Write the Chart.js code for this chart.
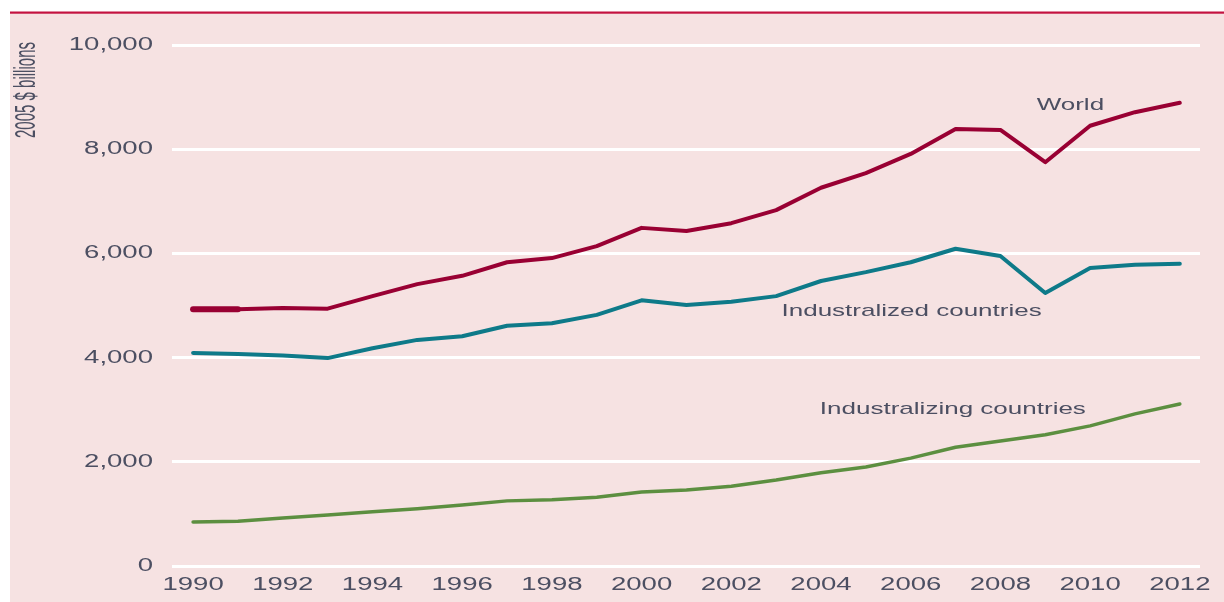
<!DOCTYPE html>
<html>
<head>
<meta charset="utf-8">
<script src="https://cdn.jsdelivr.net/npm/chart.js@4/dist/chart.umd.min.js"></script>
<style>
  html, body { margin: 0; padding: 0; background: #ffffff; }
  #wrap { width: 1224px; height: 602px; }
</style>
</head>
<body>
<div id="wrap"><canvas id="c" width="1224" height="602"></canvas></div>
<script>
// ---- data ----
const years = [1990,1991,1992,1993,1994,1995,1996,1997,1998,1999,2000,2001,2002,2003,2004,2005,2006,2007,2008,2009,2010,2011,2012];
const world = [4930,4930,4950,4940,5180,5410,5570,5830,5910,6140,6490,6430,6580,6830,7260,7540,7910,8390,8370,7750,8450,8710,8890];
const industrialized = [4090,4070,4040,3990,4180,4340,4410,4610,4660,4820,5100,5010,5070,5180,5470,5640,5830,6090,5950,5240,5720,5780,5800];
const industrializing = [845,860,920,980,1040,1100,1170,1250,1270,1320,1420,1460,1530,1650,1790,1900,2070,2280,2400,2520,2690,2920,3110];
const xTicks = [1990,1992,1994,1996,1998,2000,2002,2004,2006,2008,2010,2012];
const yTicks = [0,2000,4000,6000,8000,10000];
const yTitle = '2005 $ billions';
const seriesNames = ['World','Industralized countries','Industralizing countries'];

// ---- style ----
const PINK = '#f6e2e2';
const RED_RULE = '#c41240';
const TEXT = '#4c4f62';
const FONT = '"Liberation Sans", Arial, sans-serif';
const SX = 1.53; // horizontal stretch seen in the reference
const annot = [
  { text: seriesNames[0], x: 2009.56, y: 8850 },
  { text: seriesNames[1], x: 2006.02, y: 4894 },
  { text: seriesNames[2], x: 2006.94, y: 3013 }
];

function pts(arr){ return years.map((yr,i)=>({x:yr, y:arr[i]})); }
function fmt(v){ return v.toLocaleString('en-US'); }

function drawText(ctx, txt, x, y, align, size){
  ctx.save();
  ctx.translate(x, y);
  ctx.scale(SX, 1);
  ctx.font = size + 'px ' + FONT;
  ctx.fillStyle = TEXT;
  ctx.textAlign = align;
  ctx.textBaseline = 'middle';
  ctx.fillText(txt, 0, 0);
  ctx.restore();
}

const bgPlugin = {
  id: 'bg',
  beforeDraw(chart){
    const c = chart.ctx, W = chart.width, H = chart.height;
    c.save();
    c.fillStyle = '#ffffff'; c.fillRect(0,0,W,H);
    c.fillStyle = PINK; c.fillRect(10,13,W-10,H-13);
    c.fillStyle = RED_RULE; c.fillRect(10,11.5,W-10,2.2);
    c.restore();
  },
  afterDraw(chart){
    const c = chart.ctx, xs = chart.scales.x, ys = chart.scales.y;
    yTicks.forEach(v => drawText(c, fmt(v), 153, ys.getPixelForValue(v), 'right', 18));
    xTicks.forEach(v => drawText(c, String(v), xs.getPixelForValue(v), 585, 'center', 18));
    annot.forEach(a => drawText(c, a.text, xs.getPixelForValue(a.x), ys.getPixelForValue(a.y), 'center', 17));
    // rotated condensed axis title
    c.save();
    c.font = '19px ' + FONT;
    const w = c.measureText(yTitle).width;
    c.translate(27, 90);
    c.rotate(-Math.PI/2);
    c.scale(96 / w, 1.6);
    c.fillStyle = TEXT;
    c.textAlign = 'center';
    c.textBaseline = 'middle';
    c.fillText(yTitle, 0, 0);
    c.restore();
  }
};

new Chart(document.getElementById('c'), {
  type: 'line',
  data: {
    datasets: [
      { label: seriesNames[0], data: pts(world), borderColor: '#990033', borderWidth: 4,
        segment: { borderWidth: ctx => ctx.p0DataIndex === 0 ? 6 : 4 } },
      { label: seriesNames[1], data: pts(industrialized), borderColor: '#0e7a89', borderWidth: 4 },
      { label: seriesNames[2], data: pts(industrializing), borderColor: '#5c8f40', borderWidth: 3.5 }
    ]
  },
  options: {
    responsive: false,
    animation: false,
    layout: { padding: { top: 45, right: 24, left: 0, bottom: 0 } },
    elements: {
      point: { radius: 0, hoverRadius: 0 },
      line: { tension: 0, borderCapStyle: 'round', borderJoinStyle: 'round', fill: false }
    },
    plugins: { legend: { display: false }, tooltip: { enabled: false } },
    scales: {
      x: {
        type: 'linear', min: 1989.53, max: 2012.45,
        grid: { display: false, drawTicks: false },
        border: { display: false },
        ticks: { display: false },
        afterBuildTicks: s => { s.ticks = xTicks.map(v => ({ value: v })); },
        afterFit: s => { s.height = 36; }
      },
      y: {
        min: 0, max: 10000,
        grid: { color: '#ffffff', lineWidth: 3, drawTicks: false },
        border: { display: false },
        ticks: { display: false },
        afterBuildTicks: s => { s.ticks = yTicks.map(v => ({ value: v })); },
        afterFit: s => { s.width = 172; }
      }
    }
  },
  plugins: [bgPlugin]
});
</script>
</body>
</html>
